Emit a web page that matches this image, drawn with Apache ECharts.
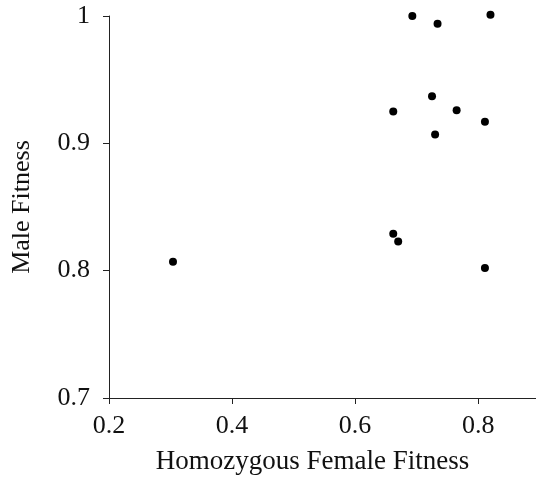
<!DOCTYPE html>
<html>
<head>
<meta charset="utf-8">
<script src="https://cdn.jsdelivr.net/npm/echarts@6/dist/echarts.min.js"></script>
<style>
  html, body { margin: 0; padding: 0; background: #fff; }
  #chart { width: 536px; height: 480px; }
</style>
</head>
<body>
<div id="chart"></div>
<script>
// homozygous female fitness (x) vs male fitness (y)
const femaleFitness = [0.693, 0.734, 0.820, 0.725, 0.662, 0.765, 0.811, 0.730, 0.662, 0.670, 0.811, 0.304];
const maleFitness   = [1.000, 0.994, 1.001, 0.937, 0.925, 0.926, 0.917, 0.907, 0.829, 0.823, 0.802, 0.807];
const xTicks = [0.2, 0.4, 0.6, 0.8];
const yTicks = [0.7, 0.8, 0.9, 1];

const points = femaleFitness.map((x, i) => [x, maleFitness[i]]);

const font = 'Liberation Serif';
const axisColor = '#222';

const chart = echarts.init(document.getElementById('chart'));
chart.setOption({
  animation: false,
  grid: { left: 109, right: 0, top: 16, bottom: 81 },
  xAxis: {
    type: 'value',
    min: 0.2,
    max: 0.894,
    name: 'Homozygous Female Fitness',
    nameLocation: 'middle',
    nameGap: 50,
    nameTextStyle: { fontFamily: font, fontSize: 27, color: '#111', padding: [0, 20, 0, 0] },
    axisLine: { show: true, lineStyle: { color: axisColor, width: 1 } },
    axisTick: { show: true, length: 6, customValues: xTicks, lineStyle: { color: axisColor } },
    axisLabel: {
      customValues: xTicks,
      margin: 15,
      fontFamily: font, fontSize: 26, color: '#111',
      formatter: v => String(v)
    },
    splitLine: { show: false }
  },
  yAxis: {
    type: 'value',
    min: 0.7,
    max: 1,
    interval: 0.1,
    name: 'Male Fitness',
    nameLocation: 'middle',
    nameGap: 74,
    nameTextStyle: { fontFamily: font, fontSize: 26, color: '#111' },
    axisLine: { show: true, lineStyle: { color: axisColor, width: 1 } },
    axisTick: { show: true, length: 6, customValues: yTicks, lineStyle: { color: axisColor } },
    axisLabel: {
      customValues: yTicks,
      margin: 19,
      fontFamily: font, fontSize: 26, color: '#111',
      formatter: v => String(Math.round(v * 10) / 10)
    },
    splitLine: { show: false }
  },
  series: [{
    type: 'scatter',
    data: points,
    symbol: 'circle',
    symbolSize: 8,
    clip: false,
    itemStyle: { color: '#000', opacity: 1 }
  }]
});
</script>
</body>
</html>
